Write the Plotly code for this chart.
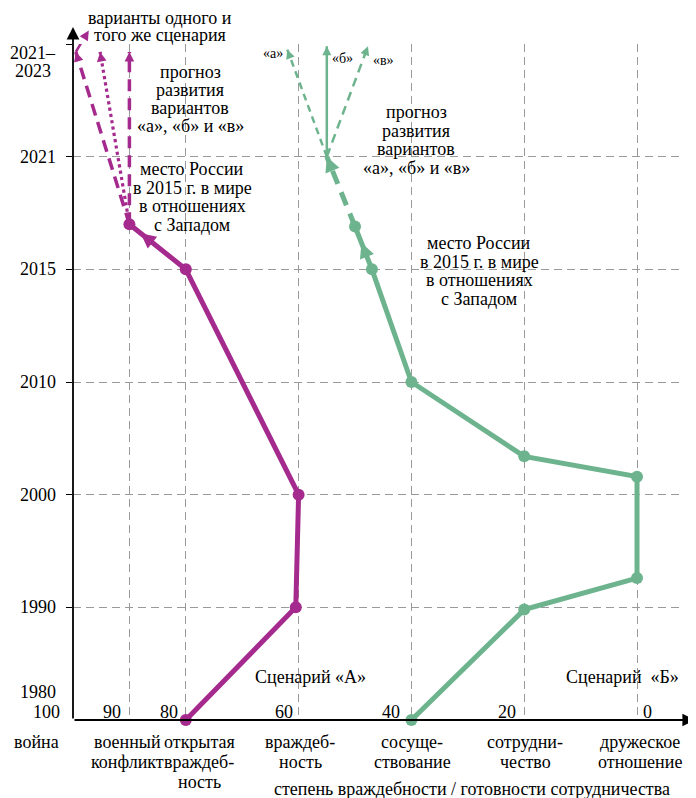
import math
import plotly.graph_objects as go

FONT = "Liberation Serif, Times New Roman, serif"
MAG = "#a52a8e"
GRN = "#6db48e"
GRID = "#9a9a9a"

# ---- axis categories ----
level_values = [100, 90, 80, 60, 40, 20, 0]
level_numbers = ["100", "90", "80", "60", "40", "20", "0"]
level_names = [["война"], ["военный", "конфликт"], ["открытая", "враждеб-", "ность"],
               ["враждеб-", "ность"], ["сосуще-", "ствование"], ["сотрудни-", "чество"],
               ["дружеское", "отношение"]]
period_pos = [0, 1, 2, 3, 4, 5, 6]
period_labels = ["1980", "1990", "2000", "2010", "2015", "2021", "2021–2023"]
x_title = "степень враждебности / готовности сотрудничества"

# ---- Scenario A (period position, level) ----
a_t = [0, 1, 2, 4, 4.4]
a_v = [80, 60.5, 60, 80, 90]
a_fc_t = [5.93, 5.93, 5.93]
a_fc_v = [99.5, 95.2, 90]
a_fc_dash = ["12px,7px", "dot", "12px,7px"]
a_note_t = [5.93, 6.12]
a_note_v = [99.5, 97.2]

# ---- Scenario B ----
b_t = [0, 0.98, 1.26, 2.16, 2.34, 3, 4, 4.38]
b_v = [40, 20, 0, 0, 20, 40, 47, 50]
b_mid_t = [4.38, 5.0]
b_mid_v = [50, 55]
b_fc_t = [5.95, 5.98, 5.98]
b_fc_v = [62, 55, 47.7]
b_fc_dash = ["7px,5px", "solid", "9px,6px"]
b_fc_names = ["«а»", "«б»", "«в»"]

# ---- geometry (page pixels; the page has an 8px body margin) ----
OFF = 8
W, H = 696, 798
L, R, T, B = 73 - OFF, 680 - OFF, 44 - OFF, 720 - OFF   # plot area in figure pixels
X0, X1 = 100, -7.62
Y0, Y1 = 0, 6
XPX = (R - L) / (X0 - X1)
YPX = (B - T) / (Y1 - Y0)


def pxp(px):  # page x pixel -> paper
    return (px - OFF - L) / (R - L)


def pyp(py):  # page y pixel -> paper
    return (B - (py - OFF)) / (B - T)


fig = go.Figure()


def line(xs, ys, color, width, dash="solid", markers=False):
    fig.add_trace(go.Scatter(x=xs, y=ys, mode="lines+markers" if markers else "lines", cliponaxis=False,
                             line=dict(color=color, width=width, dash=dash),
                             marker=dict(color=color, size=12), hoverinfo="skip"))


def head(v0, t0, v1, t1, color, w, size, shaft=8):
    dx = (v0 - v1) * XPX
    dy = (t0 - t1) * YPX
    n = math.hypot(dx, dy)
    ux, uy = dx / n, dy / n
    fig.add_annotation(x=(X0 - v1) / (X0 - X1), y=(t1 - Y0) / (Y1 - Y0), xref="paper", yref="paper",
                       ax=-ux * shaft, ay=-uy * shaft, axref="pixel", ayref="pixel", text="",
                       showarrow=True, arrowhead=2, arrowsize=size, arrowwidth=w, arrowcolor=color)


# main lines
line(a_v, a_t, MAG, 5, markers=True)
line(b_v, b_t, GRN, 5, markers=True)


def mid_head(xs, ys, f, color):
    mx = xs[0] + f * (xs[1] - xs[0])
    my = ys[0] + f * (ys[1] - ys[0])
    head(xs[0], ys[0], mx, my, color, 2, 1.5, shaft=14)


mid_head(a_v[3:5], a_t[3:5], 0.8, MAG)
mid_head(b_v[6:8], b_t[6:8], 0.62, GRN)

# forecasts A
for v, t, d in zip(a_fc_v, a_fc_t, a_fc_dash):
    line([a_v[-1], v], [a_t[-1], t], MAG, 3.5 if d != "dot" else 3.2, d)
    head(a_v[-1], a_t[-1], v, t, MAG, 1.6, 1.2, shaft=6)
line(a_note_v, a_note_t, MAG, 2.5)
head(a_note_v[0], a_note_t[0], a_note_v[1], a_note_t[1], MAG, 1.6, 1.2, shaft=6)

# forecasts B
line(b_mid_v, b_mid_t, GRN, 5, "14px,9px")
head(b_mid_v[0], b_mid_t[0], b_mid_v[1], b_mid_t[1], GRN, 2, 1.5, shaft=10)
for v, t, d in zip(b_fc_v, b_fc_t, b_fc_dash):
    line([b_mid_v[-1], v], [b_mid_t[-1], t], GRN, 2.5, d)
    head(b_mid_v[-1], b_mid_t[-1], v, t, GRN, 1.5, 1.2, shaft=6)

# axis arrows
fig.add_annotation(x=0, y=pyp(27), xref="paper", yref="paper", ax=0, ay=(720 - 27), axref="pixel",
                   ayref="pixel", text="", showarrow=True, arrowhead=2, arrowsize=1.4, arrowwidth=1.8,
                   arrowcolor="black")
fig.add_annotation(x=pxp(695), y=0, xref="paper", yref="paper", ax=-(695 - 73), ay=0, axref="pixel",
                   ayref="pixel", text="", showarrow=True, arrowhead=2, arrowsize=1.4, arrowwidth=1.8,
                   arrowcolor="black")


def txt(s, cx, cy, size=18, anchor="center", color="black"):
    fig.add_annotation(x=pxp(cx), y=pyp(cy), xref="paper", yref="paper", text=s, showarrow=False,
                       xanchor=anchor, yanchor="middle", font=dict(family=FONT, size=size, color=color))


def block(lines, cx, cy, sp, size=18, anchor="center"):
    for i, s in enumerate(lines):
        txt(s, cx, cy + i * sp, size, anchor)


# y labels (at their period positions)
for p, lab in zip(period_pos[1:6], period_labels[1:6]):
    fig.add_annotation(x=pxp(58), y=p, xref="paper", yref="y", text=lab, showarrow=False,
                       xanchor="right", yanchor="middle", font=dict(family=FONT, size=18))
top = period_labels[6].split("–")
block([top[0] + "–", top[1]], 33, 53, 18)
fig.add_annotation(x=pxp(58), y=period_pos[0], yshift=28, xref="paper", yref="y", text=period_labels[0],
                   showarrow=False, xanchor="right", yanchor="middle", font=dict(family=FONT, size=18))

# numbers above x axis
num_shift = [0, -6, -6, -4, -9, -6, 6]
for i, (v, s) in enumerate(zip(level_values, level_numbers)):
    if i == 0:
        fig.add_annotation(x=pxp(62), y=0, yshift=8, xref="paper", yref="y", text=s, showarrow=False,
                           xanchor="right", yanchor="middle", font=dict(family=FONT, size=18))
    elif v == 0:
        fig.add_annotation(x=v, y=0, yshift=8, xshift=4, xref="x", yref="y", text=s, showarrow=False,
                           xanchor="left", yanchor="middle", font=dict(family=FONT, size=18))
    else:
        fig.add_annotation(x=v, y=0, yshift=8, xshift=num_shift[i], xref="x", yref="y", text=s,
                           showarrow=False, xanchor="right", yanchor="middle", font=dict(family=FONT, size=18))

# category names below axis
name_cx = [36, 127, 199, 300, 412, 525, 640]
for lines, cx in zip(level_names, name_cx):
    block(lines, cx, 742, 20)

txt(x_title, 272, 789, anchor="left")

# annotations A
block(["варианты одного и", "того же сценария"], 160, 18, 17.5)
block(["прогноз", "развития", "вариантов", "«а», «б» и «в»"], 190, 72, 18)
block(["место России", "в 2015 г. в мире", "в отношениях", "с Западом"], 192, 169, 18.7)
txt("Сценарий «А»", 310, 677)

# annotations B
for s, cx, cy in zip(b_fc_names, [273, 342, 383], [54, 58, 60]):
    txt(s, cx, cy, size=14)
block(["прогноз", "развития", "вариантов", "«а», «б» и «в»"], 416, 112, 18.7)
block(["место России", "в 2015 г. в мире", "в отношениях", "с Западом"], 479, 243, 18.7)
txt("Сценарий  «Б»", 622, 677)

fig.update_layout(
    width=W, height=H, margin=dict(l=L, r=W - R, t=T, b=H - B, pad=0),
    paper_bgcolor="white", plot_bgcolor="white", showlegend=False,
    font=dict(family=FONT, size=18, color="black"),
    xaxis=dict(range=[X0, X1], tickvals=level_values[1:], showticklabels=False, ticks="",
               showgrid=True, gridcolor=GRID, gridwidth=1, griddash="8px,5px",
               zeroline=False, showline=False, fixedrange=True),
    yaxis=dict(range=[Y0, Y1], tickvals=period_pos[1:], showticklabels=False, ticks="outside",
               ticklen=6, tickcolor="black", tickwidth=1,
               showgrid=True, gridcolor=GRID, gridwidth=1, griddash="8px,5px",
               zeroline=False, showline=False, fixedrange=True),
)

fig.write_html("out.html")
